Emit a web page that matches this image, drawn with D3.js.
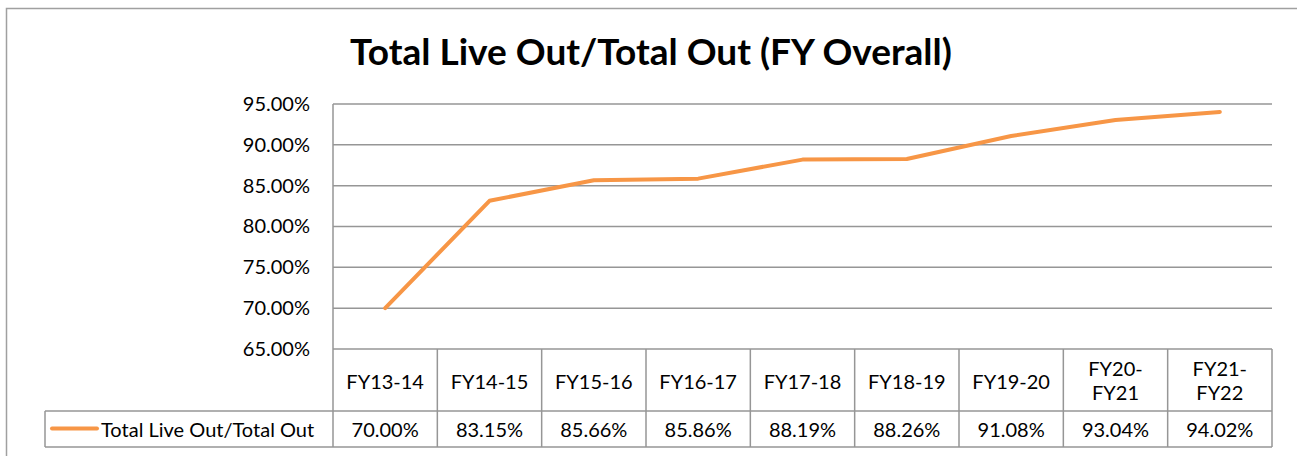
<!DOCTYPE html>
<html>
<head>
<meta charset="utf-8">
<script src="https://cdn.jsdelivr.net/npm/d3@7"></script>
<style>
  body { margin: 0; background: #fff; }
  text { font-family: Lato, "Open Sans", sans-serif; fill: #000; }
</style>
</head>
<body>
<svg id="chart" width="1297" height="456"></svg>
<script>
// data
var categories = ["FY13-14","FY14-15","FY15-16","FY16-17","FY17-18","FY18-19","FY19-20","FY20-FY21","FY21-FY22"];
var headerLines = [["FY13-14"],["FY14-15"],["FY15-16"],["FY16-17"],["FY17-18"],["FY18-19"],["FY19-20"],["FY20-","FY21"],["FY21-","FY22"]];
var values = [70.00, 83.15, 85.66, 85.86, 88.19, 88.26, 91.08, 93.04, 94.02];
var yTicks = [65, 70, 75, 80, 85, 90, 95];
var seriesName = "Total Live Out/Total Out";

var svg = d3.select("#chart");
var lineColor = "#f79646";
var gridColor = "#969696";
var fontSize = "20px";

var plotLeft = 333, plotRight = 1272, plotTop = 104, plotBottom = 349;
var headerBottom = 411, tableBottom = 447, legendLeft = 45;

// outer frame
svg.append("rect")
  .attr("x", 6.5).attr("y", 8.5)
  .attr("width", 1300).attr("height", 460)
  .attr("fill", "none").attr("stroke", "#a0a0a0").attr("stroke-width", 1.5);

// title
svg.append("text")
  .attr("x", 651).attr("y", 65)
  .attr("text-anchor", "middle")
  .attr("font-size", "37px")
  .attr("font-weight", "bold")
  .text("Total Live Out/Total Out (FY Overall)");

var x = d3.scaleBand().domain(categories).range([plotLeft, plotRight]);
var y = d3.scaleLinear().domain([65, 95]).range([plotBottom, plotTop]);

// grid lines
svg.selectAll(".grid")
  .data(yTicks)
  .enter()
  .append("line")
  .attr("x1", plotLeft).attr("x2", plotRight)
  .attr("y1", function(d) { return y(d); })
  .attr("y2", function(d) { return y(d); })
  .attr("stroke", gridColor).attr("stroke-width", 1.5);

// y axis labels
var yAxis = d3.axisLeft(y).tickValues(yTicks).tickSize(0).tickPadding(23)
  .tickFormat(function(d) { return d.toFixed(2) + "%"; });
var ya = svg.append("g").attr("transform", "translate(" + plotLeft + ",0)").call(yAxis);
ya.select(".domain").remove();
ya.selectAll("text").attr("font-size", fontSize).attr("font-family", "Lato, sans-serif").attr("fill", "#000");

// vertical left axis line
svg.append("line")
  .attr("x1", plotLeft).attr("x2", plotLeft)
  .attr("y1", plotTop).attr("y2", tableBottom)
  .attr("stroke", gridColor).attr("stroke-width", 1.5);

// line
var line = d3.line()
  .x(function(d, i) { return x(categories[i]) + x.bandwidth() / 2; })
  .y(function(d) { return y(d); });

svg.append("path")
  .datum(values)
  .attr("d", line)
  .attr("fill", "none")
  .attr("stroke", lineColor)
  .attr("stroke-width", 4)
  .attr("stroke-linecap", "round")
  .attr("stroke-linejoin", "round");

// data table
var tbl = svg.append("g");
tbl.append("line").attr("x1", legendLeft).attr("x2", plotRight).attr("y1", headerBottom).attr("y2", headerBottom)
  .attr("stroke", gridColor).attr("stroke-width", 1.5);
tbl.append("line").attr("x1", legendLeft).attr("x2", plotRight).attr("y1", tableBottom).attr("y2", tableBottom)
  .attr("stroke", gridColor).attr("stroke-width", 1.5);
tbl.append("line").attr("x1", legendLeft).attr("x2", legendLeft).attr("y1", headerBottom).attr("y2", tableBottom)
  .attr("stroke", gridColor).attr("stroke-width", 1.5);

// column separators
tbl.selectAll(".sep")
  .data(categories)
  .enter()
  .append("line")
  .attr("x1", function(d) { return x(d) + x.bandwidth(); })
  .attr("x2", function(d) { return x(d) + x.bandwidth(); })
  .attr("y1", plotBottom).attr("y2", tableBottom)
  .attr("stroke", gridColor).attr("stroke-width", 1.5);

// header labels
var hdr = tbl.selectAll(".hdr")
  .data(headerLines)
  .enter()
  .append("text")
  .attr("text-anchor", "middle")
  .attr("font-size", fontSize)
  .attr("x", function(d, i) { return x(categories[i]) + x.bandwidth() / 2; })
  .attr("y", function(d) { return d.length > 1 ? 376 : 389; });
hdr.selectAll("tspan")
  .data(function(d) { return d; })
  .enter()
  .append("tspan")
  .attr("x", function() { return d3.select(this.parentNode).attr("x"); })
  .attr("dy", function(d, i) { return i === 0 ? 0 : 24; })
  .text(function(d) { return d; });

// value cells
tbl.selectAll(".val")
  .data(values)
  .enter()
  .append("text")
  .attr("text-anchor", "middle")
  .attr("font-size", fontSize)
  .attr("x", function(d, i) { return x(categories[i]) + x.bandwidth() / 2; })
  .attr("y", 437)
  .text(function(d) { return d.toFixed(2) + "%"; });

// legend key
tbl.append("line")
  .attr("x1", 52).attr("x2", 97).attr("y1", 428.5).attr("y2", 428.5)
  .attr("stroke", lineColor).attr("stroke-width", 4).attr("stroke-linecap", "round");
tbl.append("text")
  .attr("x", 101).attr("y", 437)
  .attr("font-size", fontSize)
  .text(seriesName);
</script>
</body>
</html>
